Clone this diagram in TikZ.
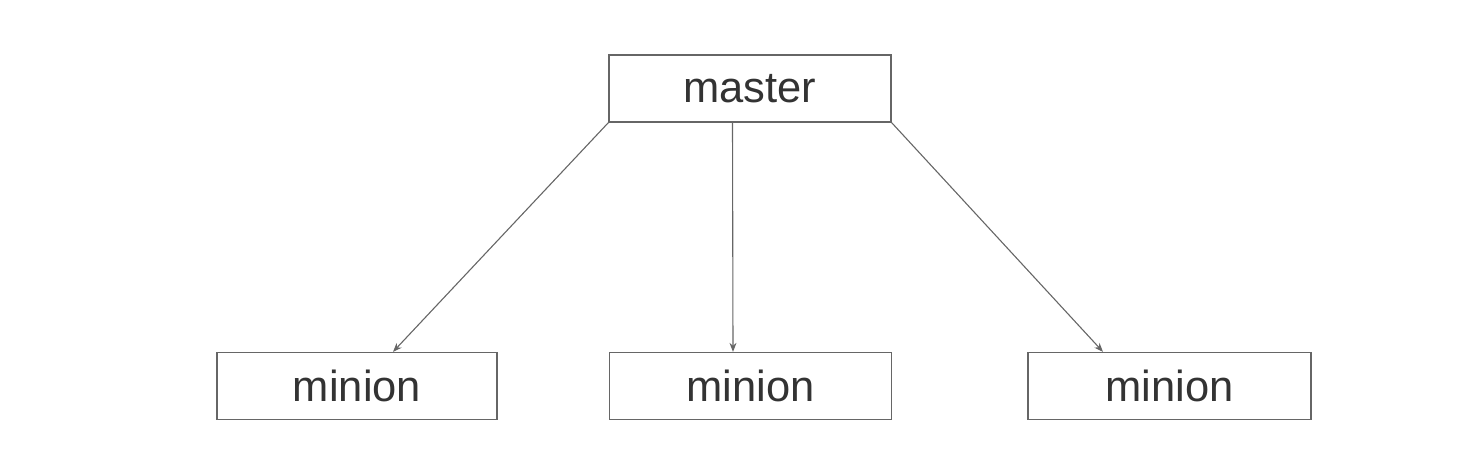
\documentclass[tikz,border=0pt]{standalone}
\usepackage{fontspec}
\setmainfont{Liberation Sans}
\usetikzlibrary{arrows.meta}
\definecolor{boxline}{HTML}{666666}
\definecolor{txt}{HTML}{333333}
\begin{document}
\begin{tikzpicture}[x=1pt,y=-1pt,
  box/.style={draw=boxline,line width=1.3pt,fill=white,minimum width=282pt,minimum height=67pt,inner sep=0pt,
    font=\fontsize{43.5}{50}\selectfont,text=txt},
  conn/.style={draw=boxline,line width=1.1pt,-{Stealth[length=9pt,width=7pt]}}]
\useasboundingbox (0,0) rectangle (1460,466);
\node[box] (m) at (750,88.5) {master};
\node[box,minimum width=280pt] (l) at (357,386) {minion};
\node[box] (c) at (750.5,386) {minion};
\node[box,minimum width=283pt] (r) at (1169.5,386) {minion};
\draw[conn] (m.south west) -- ([xshift=36pt]l.north);
\draw[conn] ([xshift=-17.5pt]m.south) -- ([xshift=-17.5pt]c.north);
\draw[conn] (m.south east) -- ([xshift=-66.5pt]r.north);
\end{tikzpicture}
\end{document}
